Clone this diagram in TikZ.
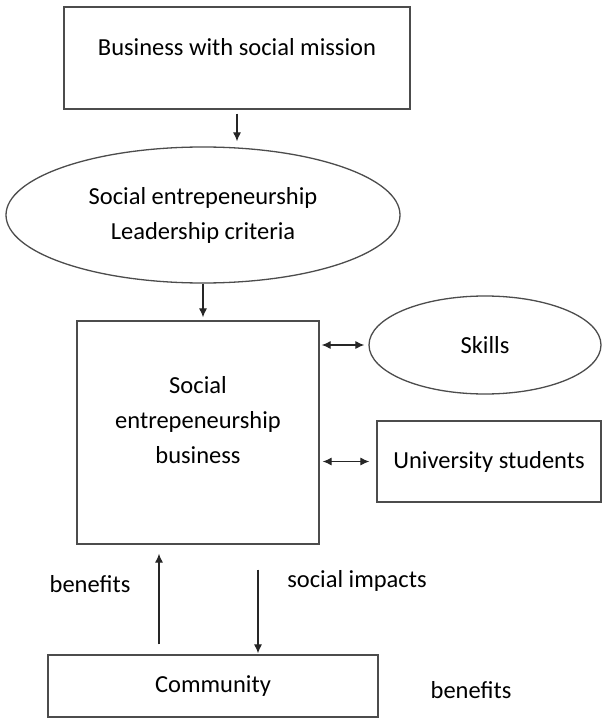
\documentclass[tikz,border=0pt]{standalone}
\usepackage{fontspec}
\setmainfont{Carlito}
\usetikzlibrary{positioning,arrows.meta,shapes.geometric}

\begin{document}
\begin{tikzpicture}[x=1pt,y=-1pt,
    every node/.style={font=\fontsize{24.5}{35}\selectfont, align=center},
    box/.style={draw=black!70, line width=1.3pt, rectangle, inner sep=0pt},
    oval/.style={draw=black!70, line width=1.3pt, ellipse, inner sep=0pt},
    link/.style={draw=black!85, line width=1.1pt, -{Latex[length=9pt,width=8pt]}},
    both/.style={link, {Latex[length=9pt,width=8pt]}-{Latex[length=9pt,width=8pt]}}]
    \useasboundingbox (0,0) rectangle (602,719); % page size of the reference

    % boxes and ovals
    \node[box, minimum width=346pt, minimum height=102pt] (mission) at (237,58) {};
    \node (missiontxt) at (237,47) {Business with social mission};
    \node[oval, minimum width=394pt, minimum height=136pt] (criteria) at (203,215)
        {Social entrepeneurship\\Leadership criteria};
    \node[box, minimum width=242pt, minimum height=223pt] (seb) at (198,432.5) {};
    \node (sebtxt) at (198,420) {Social\\entrepeneurship\\business};
    \node[oval, minimum width=232pt, minimum height=98pt] (skills) at (485,345) {Skills};
    \node[box, minimum width=224pt, minimum height=81pt] (students) at (489,461.5) {University students};
    \node[box, minimum width=330pt, minimum height=62pt] (community) at (213,686) {Community};

    % free labels
    \node (benefitsL) at (90,584) {benefits};
    \node (impacts) at (357,581) {social impacts};
    \node (benefitsR) at (471,690) {benefits};

    % connectors
    \draw[link, shorten <=4pt, shorten >=5pt] (mission.south) -- (mission.south |- criteria.north);
    \draw[link, shorten >=3pt] (criteria.south) -- (criteria.south |- seb.north);
    \draw[both, shorten <=2pt, shorten >=4pt] (seb.east |- skills.west) -- (skills.west);
    \draw[both, shorten <=3pt, shorten >=7pt] (seb.east |- students.west) -- (students.west);
    \draw[link, shorten <=10pt, shorten >=9pt] ([xshift=-54pt]community.north) -- ([xshift=-54pt]community.north |- seb.south);
    \draw[link, shorten <=25pt, shorten >=1pt] ([xshift=45pt]community.north |- seb.south) -- ([xshift=45pt]community.north);
\end{tikzpicture}
\end{document}
